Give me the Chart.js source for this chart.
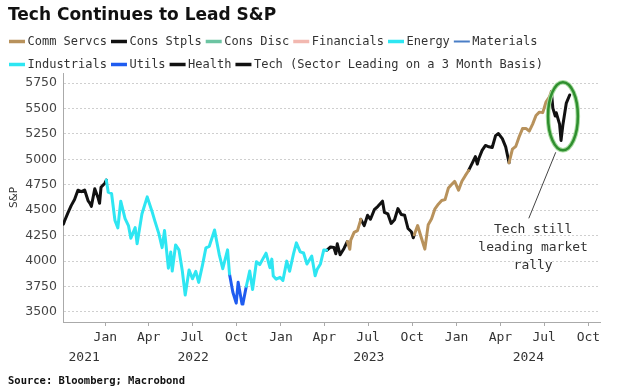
<!DOCTYPE html>
<html><head><meta charset="utf-8">
<script src="https://cdn.jsdelivr.net/npm/chart.js@4.4.1/dist/chart.umd.min.js"></script>
<style>html,body{margin:0;padding:0;background:#fff}canvas{display:block}</style>
</head><body>
<canvas id="c" width="617" height="392"></canvas>
<script>
// ---------------- DATA ----------------
const dates = [
'2021-10-06','2021-10-08','2021-10-15','2021-10-22','2021-10-29','2021-11-05','2021-11-12','2021-11-19','2021-11-26','2021-11-30',
'2021-12-03','2021-12-10','2021-12-17','2021-12-20','2021-12-23','2021-12-31','2022-01-03','2022-01-07','2022-01-14','2022-01-21',
'2022-01-27','2022-02-02','2022-02-11','2022-02-18','2022-02-23','2022-03-04','2022-03-08','2022-03-18','2022-03-29','2022-04-08',
'2022-04-14','2022-04-22','2022-04-29','2022-05-04','2022-05-12','2022-05-17','2022-05-20','2022-05-27','2022-06-03','2022-06-10',
'2022-06-16','2022-06-24','2022-07-01','2022-07-08','2022-07-14','2022-07-22','2022-07-29','2022-08-05','2022-08-16','2022-08-19',
'2022-08-26','2022-09-02','2022-09-12','2022-09-16','2022-09-23','2022-09-30','2022-10-04','2022-10-12','2022-10-14','2022-10-21',
'2022-10-28','2022-11-03','2022-11-11','2022-11-18','2022-11-25','2022-12-01','2022-12-09','2022-12-13','2022-12-16','2022-12-22',
'2022-12-30','2023-01-05','2023-01-13','2023-01-19','2023-01-27','2023-02-02','2023-02-10','2023-02-17','2023-02-24','2023-03-06',
'2023-03-13','2023-03-17','2023-03-24','2023-03-31','2023-04-06','2023-04-14','2023-04-21','2023-04-25','2023-04-28','2023-05-04',
'2023-05-12','2023-05-19','2023-05-24','2023-05-26','2023-06-02','2023-06-09','2023-06-16','2023-06-23','2023-06-30','2023-07-06',
'2023-07-14','2023-07-21','2023-07-31','2023-08-04','2023-08-11','2023-08-18','2023-08-25','2023-09-01','2023-09-08','2023-09-15',
'2023-09-22','2023-09-29','2023-10-03','2023-10-05','2023-10-12','2023-10-20','2023-10-27','2023-11-03','2023-11-10','2023-11-17',
'2023-11-24','2023-12-01','2023-12-08','2023-12-15','2023-12-22','2023-12-28','2024-01-05','2024-01-12','2024-01-19','2024-01-26',
'2024-02-02','2024-02-09','2024-02-13','2024-02-16','2024-02-23','2024-03-01','2024-03-08','2024-03-15','2024-03-22','2024-03-28',
'2024-04-05','2024-04-12','2024-04-19','2024-04-26','2024-05-03','2024-05-10','2024-05-17','2024-05-24','2024-05-31','2024-06-07',
'2024-06-14','2024-06-21','2024-06-28','2024-07-05','2024-07-12','2024-07-16','2024-07-19','2024-07-24','2024-07-26','2024-08-02',
'2024-08-05','2024-08-09','2024-08-16','2024-08-23'
];
const spx = [
4363,4391,4471,4545,4605,4697,4682,4698,4595,4567,
4538,4712,4620,4568,4725,4766,4797,4677,4662,4398,
4326,4589,4418,4349,4225,4329,4170,4463,4631,4488,
4392,4272,4132,4300,3930,4088,3901,4158,4109,3901,
3666,3912,3825,3899,3790,3962,4130,4145,4305,4228,
4058,3924,4110,3873,3693,3586,3791,3577,3583,3752,
3901,3720,3993,3965,4026,4077,3934,4019,3852,3822,
3840,3808,3999,3899,4071,4179,4090,4079,3970,4048,
3855,3917,3971,4109,4105,4138,4133,4071,4169,4061,
4124,4192,4115,4205,4282,4299,4410,4348,4450,4411,
4505,4536,4589,4478,4464,4370,4406,4516,4457,4450,
4320,4288,4229,4258,4349,4224,4117,4358,4415,4514,
4559,4595,4604,4719,4755,4783,4697,4784,4840,4891,
4959,5027,4953,5006,5089,5137,5124,5117,5234,5254,
5204,5123,4967,5100,5128,5223,5303,5305,5278,5347,
5432,5465,5460,5567,5615,5667,5505,5427,5459,5347,
5186,5344,5554,5634
];
const sectors = ['Comm Servcs','Cons Stpls','Cons Disc','Financials','Energy','Materials','Industrials','Utils','Health','Tech'];
const legendSuffix = {'Tech':' (Sector Leading on a 3 Month Basis)'};
const leaderStart  = ['2021-10-06','2022-01-03','2022-09-16','2022-10-21','2023-04-06','2023-05-19','2023-06-16','2023-10-05','2024-01-26','2024-04-19','2024-07-16'];
const leaderSector = ['Tech','Energy','Utils','Industrials','Health','Comm Servcs','Tech','Comm Servcs','Tech','Comm Servcs','Tech'];
const tickDates  = ['2022-01-01','2022-04-01','2022-07-01','2022-10-01','2023-01-01','2023-04-01','2023-07-01','2023-10-01','2024-01-01','2024-04-01','2024-07-01','2024-10-01'];
const tickLabels = ['Jan','Apr','Jul','Oct','Jan','Apr','Jul','Oct','Jan','Apr','Jul','Oct'];
const yearLabels = ['2021','2022','2023','2024'];
const yTicks = [3500,3750,4000,4250,4500,4750,5000,5250,5500,5750];
const axisStart = '2021-10-05', axisEnd = '2024-10-25';
const yMin = 3400, yMax = 5850;
const titleText = 'Tech Continues to Lead S&P';
const yTitle = 'S&P';
const sourceText = 'Source: Bloomberg; Macrobond';
const noteLines = ['Tech still','leading market','rally'];
const noteCircle = {date:'2024-08-09', value:5425, halfDays:31, halfValue:335};
const noteArrow = {fromDate:'2024-07-25', fromValue:5070, toDate:'2024-05-30', toValue:4420};
const noteText = {date:'2024-06-08', value:4128};

// ---------------- STYLES ----------------
const sectorColors = {
  'Comm Servcs':'#b8925c','Cons Stpls':'#111111','Cons Disc':'#6cc4a2','Financials':'#f2b8b0',
  'Energy':'#2ee6f2','Materials':'#4a7ec6','Industrials':'#2ee6f2','Utils':'#1f5cf0',
  'Health':'#111111','Tech':'#111111'
};
const MONO = '"DejaVu Sans Mono", "Liberation Mono", monospace';
const SANS = '"DejaVu Sans", Verdana, sans-serif';

const dayOf = s => Date.UTC(+s.slice(0,4), +s.slice(5,7)-1, +s.slice(8,10)) / 864e5;

// build datasets per sector
const pts = dates.map((d,i)=>({x:dayOf(d), y:spx[i]}));
const dsData = {}; sectors.forEach(s=>dsData[s]=[]);
leaderStart.forEach((st,k)=>{
  const s = dayOf(st), e = k+1<leaderStart.length ? dayOf(leaderStart[k+1]) : Infinity;
  const arr = dsData[leaderSector[k]];
  if (arr.length) arr.push({x:s-0.5, y:null});
  pts.forEach(p=>{ if (p.x>=s && p.x<=e) arr.push(p); });
});
const datasets = sectors.map(s=>({
  label:s + (legendSuffix[s]||''), data:dsData[s], borderColor:sectorColors[s], backgroundColor:sectorColors[s],
  borderWidth:3, pointRadius:0, tension:0, spanGaps:false, xAxisID:'x', yAxisID:'y',
  borderCapStyle:'round', borderJoinStyle:'round'
}));

const xMin = dayOf(axisStart), xMax = dayOf(axisEnd);
const yearCenters = yearLabels.map(y=>{
  const a = Math.max(xMin, dayOf(y+'-01-01')), b = Math.min(xMax, dayOf((+y+1)+'-01-01'));
  return (a+b)/2;
});

// ---------------- PLUGINS ----------------
const legendPlugin = {
  id:'rowLegend',
  afterDraw(chart){
    const ctx = chart.ctx;
    const rows = [[0,6,41.5],[6,10,64.5]];
    ctx.save();
    ctx.font = '12px ' + MONO;
    ctx.textBaseline = 'middle';
    rows.forEach(([a,b,y])=>{
      let x = 9;
      for (let i=a;i<b;i++){
        const ds = chart.data.datasets[i];
        ctx.strokeStyle = ds.borderColor;
        ctx.lineWidth = ds.label==='Materials' ? 2 : 3.5;
        ctx.beginPath(); ctx.moveTo(x, y); ctx.lineTo(x+16, y); ctx.stroke();
        x += 18.5;
        ctx.fillStyle = '#333';
        ctx.fillText(ds.label, x, y);
        x += ctx.measureText(ds.label).width + 4;
      }
    });
    ctx.restore();
  }
};
const sourcePlugin = {
  id:'source',
  afterDraw(chart){
    const ctx = chart.ctx;
    ctx.save();
    ctx.font = 'bold 10.5px ' + MONO;
    ctx.fillStyle = '#111';
    ctx.textBaseline = 'middle';
    ctx.fillText(sourceText, 8, 381);
    ctx.restore();
  }
};
const notePlugin = {
  id:'note',
  afterDatasetsDraw(chart){
    const {ctx, scales:{x, y}} = chart;
    ctx.save();
    const cx = x.getPixelForValue(dayOf(noteCircle.date)), cy = y.getPixelForValue(noteCircle.value);
    const rx = x.getPixelForValue(dayOf(noteCircle.date)+noteCircle.halfDays) - cx;
    const ry = cy - y.getPixelForValue(noteCircle.value+noteCircle.halfValue);
    ctx.strokeStyle = '#a8dca0'; ctx.lineWidth = 4.5;
    ctx.beginPath(); ctx.ellipse(cx, cy, rx, ry, 0, 0, Math.PI*2); ctx.stroke();
    ctx.strokeStyle = '#2f8f2f'; ctx.lineWidth = 2.5;
    ctx.beginPath(); ctx.ellipse(cx, cy, rx, ry, 0, 0, Math.PI*2); ctx.stroke();
    ctx.strokeStyle = '#444'; ctx.lineWidth = 1;
    ctx.beginPath();
    ctx.moveTo(x.getPixelForValue(dayOf(noteArrow.fromDate)), y.getPixelForValue(noteArrow.fromValue));
    ctx.lineTo(x.getPixelForValue(dayOf(noteArrow.toDate)), y.getPixelForValue(noteArrow.toValue));
    ctx.stroke();
    ctx.font = '13px ' + MONO; ctx.fillStyle = '#333'; ctx.textAlign = 'center'; ctx.textBaseline = 'middle';
    const tx = x.getPixelForValue(dayOf(noteText.date)), ty = y.getPixelForValue(noteText.value);
    noteLines.forEach((l,i)=>ctx.fillText(l, tx, ty + (i-1)*18));
    ctx.restore();
  }
};

// ---------------- CHART ----------------
new Chart(document.getElementById('c'), {
  type:'line',
  data:{datasets},
  options:{
    responsive:false, animation:false, parsing:true,
    layout:{padding:{left:8, right:17, top:0, bottom:24}},
    plugins:{
      legend:{display:false}, tooltip:{enabled:false},
      title:{display:true, text:titleText, align:'start', color:'#111',
        font:{family:SANS, size:17, weight:'bold'}, padding:{top:5, bottom:47.6}}
    },
    scales:{
      x:{type:'linear', position:'bottom', min:xMin, max:xMax, weight:0,
        afterBuildTicks:s=>{ s.ticks = tickDates.map(d=>({value:dayOf(d)})); },
        afterFit:s=>{ s.height = 24; },
        ticks:{autoSkip:false, maxRotation:0, padding:4, color:'#333',
          font:{family:MONO, size:13}, callback:(v,i)=>tickLabels[i]},
        grid:{display:true, drawOnChartArea:false, drawTicks:true, tickLength:4, color:'#aaa'},
        border:{display:true, color:'#aaa'}
      },
      x2:{type:'linear', position:'bottom', min:xMin, max:xMax, weight:1,
        afterBuildTicks:s=>{ s.ticks = yearCenters.map(v=>({value:v})); },
        afterFit:s=>{ s.height = 22; },
        ticks:{autoSkip:false, maxRotation:0, padding:4, color:'#333',
          font:{family:MONO, size:13}, callback:(v,i)=>yearLabels[i]},
        grid:{display:false, drawTicks:false, tickLength:0}, border:{display:false}
      },
      y:{type:'linear', position:'left', min:yMin, max:yMax,
        afterBuildTicks:s=>{ s.ticks = yTicks.map(v=>({value:v})); },
        afterFit:s=>{ s.width = 55; },
        ticks:{padding:6, color:'#444', font:{family:SANS, size:12.5}, callback:v=>String(v)},
        grid:{display:true, drawTicks:false, color:'#cfcfcf', lineWidth:1},
        border:{display:true, color:'#aaa', dash:[2,2]},
        title:{display:true, text:yTitle, color:'#333', font:{family:SANS, size:10.5}, padding:0}
      }
    }
  },
  plugins:[legendPlugin, sourcePlugin, notePlugin]
});
</script>
</body></html>
